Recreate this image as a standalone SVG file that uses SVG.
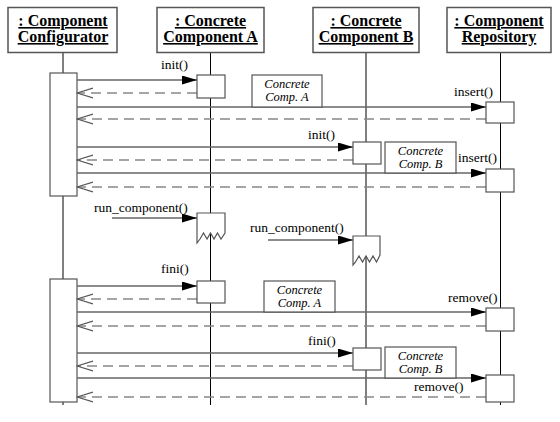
<svg xmlns="http://www.w3.org/2000/svg" width="560" height="422" viewBox="0 0 560 422">
<style>
.hdr{fill:#fff;stroke:#555;stroke-width:1.5}
.ht{font-family:"Liberation Serif",serif;font-weight:bold;font-size:16px;text-anchor:middle;text-decoration:underline;fill:#000}
.life{stroke:#000;stroke-width:1;fill:none}
.act{fill:#fff;stroke:#555;stroke-width:1.2}
.msg{stroke:#666;stroke-width:1.3;fill:none;marker-end:url(#filled)}
.ret{stroke:#888;stroke-width:1.3;fill:none;stroke-dasharray:10,6;marker-end:url(#open)}
.lbl{font-family:"Liberation Serif",serif;font-size:13.5px;fill:#000}
.note{fill:#fff;stroke:#555;stroke-width:1.2}
.nt{font-family:"Liberation Serif",serif;font-style:italic;font-size:12.5px;text-anchor:middle;fill:#000}
</style>
<defs>
<marker id="filled" markerUnits="userSpaceOnUse" markerWidth="16" markerHeight="10" refX="15" refY="4.5" orient="auto">
<path d="M0,0 L15,4.5 L0,9 z" fill="#000"/>
</marker>
<marker id="open" markerUnits="userSpaceOnUse" markerWidth="17" markerHeight="12" refX="16" refY="5.5" orient="auto">
<path d="M0,0.5 L16,5.5 L0,10.5" fill="none" stroke="#555" stroke-width="1.2"/>
</marker>
</defs>
<rect width="560" height="422" fill="#fff"/>

<g id="lifelines">
<line class="life" x1="63" y1="53" x2="63" y2="405"/>
<line class="life" x1="210.5" y1="53" x2="210.5" y2="405"/>
<line class="life" x1="366" y1="53" x2="366" y2="405"/>
<line class="life" x1="500.5" y1="53" x2="500.5" y2="405"/>
</g>

<g id="configurator">
<rect class="hdr" x="8" y="7.5" width="109" height="45"/>
<text class="ht" x="63" y="26">: Component</text>
<text class="ht" x="63" y="42">Configurator</text>
<rect class="act" x="50" y="73" width="27" height="123"/>
<rect class="act" x="50" y="279" width="27" height="123"/>
</g>

<g id="componentA">
<rect class="hdr" x="157" y="7.5" width="107" height="45"/>
<text class="ht" x="210.5" y="26">: Concrete</text>
<text class="ht" x="210.5" y="42">Component A</text>
</g>

<g id="componentB">
<rect class="hdr" x="313" y="7.5" width="106" height="45"/>
<text class="ht" x="366" y="26">: Concrete</text>
<text class="ht" x="366" y="42">Component B</text>
</g>

<g id="repository">
<rect class="hdr" x="447" y="7.5" width="104" height="45"/>
<text class="ht" x="499" y="26">: Component</text>
<text class="ht" x="499" y="42">Repository</text>
</g>

<g id="connectors">
<line class="msg" x1="77" y1="80" x2="197" y2="80"/>
<line class="ret" x1="197" y1="93" x2="77" y2="93"/>
<line class="msg" x1="77" y1="107" x2="486" y2="107"/>
<line class="ret" x1="486" y1="119" x2="77" y2="119"/>
<line class="msg" x1="77" y1="147" x2="353" y2="147"/>
<line class="ret" x1="353" y1="160" x2="77" y2="160"/>
<line class="msg" x1="77" y1="173" x2="486" y2="173"/>
<line class="ret" x1="486" y1="187" x2="77" y2="187"/>
<line class="msg" x1="112" y1="218" x2="197" y2="218"/>
<line class="msg" x1="268" y1="240" x2="353" y2="240"/>
<line class="msg" x1="77" y1="286" x2="197" y2="286"/>
<line class="ret" x1="197" y1="299" x2="77" y2="299"/>
<line class="msg" x1="77" y1="312" x2="486" y2="312"/>
<line class="ret" x1="486" y1="326" x2="77" y2="326"/>
<line class="msg" x1="77" y1="353" x2="353" y2="353"/>
<line class="ret" x1="353" y1="366" x2="77" y2="366"/>
<line class="msg" x1="77" y1="378" x2="486" y2="378"/>
<line class="ret" x1="486" y1="397" x2="77" y2="397"/>
</g>

<g id="activationsA">
<rect class="act" x="197" y="75" width="28" height="23"/>
<path class="act" d="M197,243 L197,213 L225,213 L225,233 L221,239 L217.5,233 L214,239 L210.5,233 L207,239 L203.5,233 L200,239 Z"/>
<rect class="act" x="197" y="281" width="28" height="22"/>
</g>

<g id="activationsB">
<rect class="act" x="353" y="142" width="28" height="22"/>
<path class="act" d="M353,265 L353,236 L380,236 L380,255 L376.5,262 L373,256 L369.5,262 L366,256 L362.5,262 L359,256 L355.5,262 Z"/>
<rect class="act" x="353" y="348" width="28" height="22"/>
</g>

<g id="activationsRepo">
<rect class="act" x="486" y="102" width="28" height="21"/>
<rect class="act" x="486" y="169" width="28" height="23"/>
<rect class="act" x="486" y="308" width="28" height="23"/>
<rect class="act" x="486" y="375" width="28" height="27"/>
</g>

<g id="notes">
<rect class="note" x="252" y="75" width="70" height="32"/>
<text class="nt" x="287" y="88">Concrete</text>
<text class="nt" x="287" y="101">Comp. A</text>
<rect class="note" x="385" y="142" width="71" height="31"/>
<text class="nt" x="420.5" y="155">Concrete</text>
<text class="nt" x="420.5" y="168">Comp. B</text>
<rect class="note" x="264" y="281" width="71" height="31"/>
<text class="nt" x="299.5" y="294">Concrete</text>
<text class="nt" x="299.5" y="307">Comp. A</text>
<rect class="note" x="385" y="347" width="71" height="31"/>
<text class="nt" x="420.5" y="360">Concrete</text>
<text class="nt" x="420.5" y="373">Comp. B</text>
</g>

<g id="labels">
<text class="lbl" x="161" y="69">init()</text>
<text class="lbl" x="454" y="96">insert()</text>
<text class="lbl" x="308" y="139">init()</text>
<text class="lbl" x="458" y="162">insert()</text>
<text class="lbl" x="94" y="212">run_component()</text>
<text class="lbl" x="250" y="232">run_component()</text>
<text class="lbl" x="161" y="273">fini()</text>
<text class="lbl" x="448" y="302">remove()</text>
<text class="lbl" x="308" y="345">fini()</text>
<text class="lbl" x="414" y="391">remove()</text>
</g>
</svg>
